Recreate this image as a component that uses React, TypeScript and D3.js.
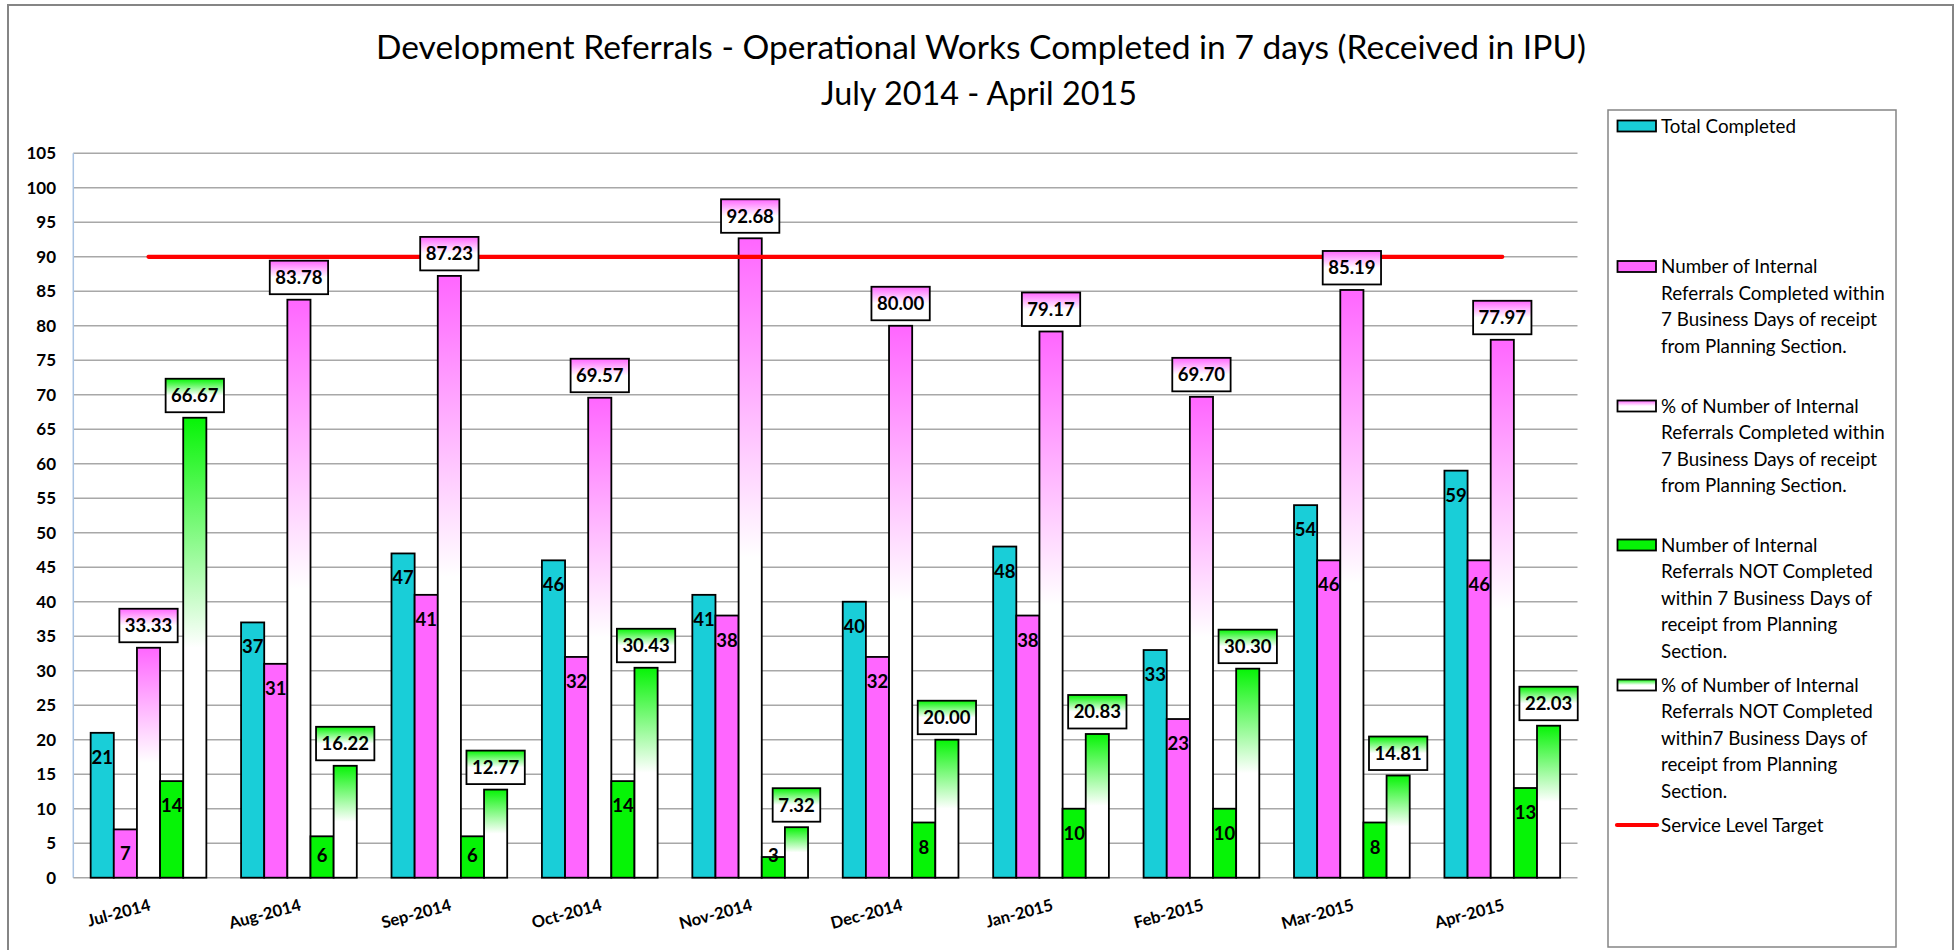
import { useEffect, useRef } from 'react';
import * as d3 from 'd3';

// --- data ---
const months = ['Jul-2014', 'Aug-2014', 'Sep-2014', 'Oct-2014', 'Nov-2014', 'Dec-2014', 'Jan-2015', 'Feb-2015', 'Mar-2015', 'Apr-2015'];
const totalCompleted = [21, 37, 47, 46, 41, 40, 48, 33, 54, 59];
const completedWithin = [7, 31, 41, 32, 38, 32, 38, 23, 46, 46];
const pctCompletedWithin = [33.33, 83.78, 87.23, 69.57, 92.68, 80.0, 79.17, 69.7, 85.19, 77.97];
const notCompletedWithin = [14, 6, 6, 14, 3, 8, 10, 10, 8, 13];
const pctNotCompletedWithin = [66.67, 16.22, 12.77, 30.43, 7.32, 20.0, 20.83, 30.3, 14.81, 22.03];
const serviceLevelTarget = 90;
const yTicks = [0, 5, 10, 15, 20, 25, 30, 35, 40, 45, 50, 55, 60, 65, 70, 75, 80, 85, 90, 95, 100, 105];

const titleLines = ['Development Referrals - Operational Works Completed in 7 days (Received in IPU)', 'July 2014 - April 2015'];

const legendTotal = ['Total Completed'];
const legendWithin = ['Number of Internal', 'Referrals Completed within', '7 Business Days of receipt', 'from Planning Section.'];
const legendPctWithin = ['% of Number of Internal', 'Referrals Completed within', '7 Business Days of receipt', 'from Planning Section.'];
const legendNot = ['Number of Internal', 'Referrals NOT Completed', 'within 7 Business Days of', 'receipt from Planning', 'Section.'];
const legendPctNot = ['% of Number of Internal', 'Referrals NOT Completed', 'within7 Business Days of', 'receipt from Planning', 'Section.'];
const legendTarget = ['Service Level Target'];

const TEAL = '#19CED8';
const PINK = '#FF66FF';
const GREEN = '#06F406';

const FONT = 'Lato, "Noto Sans", sans-serif';

export default function App() {
    const svgRef = useRef<SVGSVGElement | null>(null);

    useEffect(() => {
        const W = 1959;
        const H = 950;
        const svg = d3.select(svgRef.current)
            .attr('width', W)
            .attr('height', H)
            .style('background', '#fff');
        svg.selectAll('*').remove();

        const defs = svg.append('defs');
        const fade = (id: string, color: string) => {
            const g = defs.append('linearGradient').attr('id', id)
                .attr('x1', 0).attr('y1', 0).attr('x2', 0).attr('y2', 1);
            g.append('stop').attr('offset', '0%').attr('stop-color', color);
            g.append('stop').attr('offset', '50%').attr('stop-color', '#fff');
            g.append('stop').attr('offset', '100%').attr('stop-color', '#fff');
        };
        fade('pinkFade', PINK);
        fade('greenFade', GREEN);

        // outer chart border
        svg.append('rect')
            .attr('x', 8).attr('y', 5).attr('width', 1945).attr('height', 950)
            .attr('fill', 'none').attr('stroke', '#858585').attr('stroke-width', 2);

        // title
        const title = svg.append('g').attr('font-family', FONT).attr('fill', '#000');
        title.append('text')
            .attr('x', 981).attr('y', 59).attr('text-anchor', 'middle')
            .attr('font-size', 33)
            .attr('textLength', 1210).attr('lengthAdjust', 'spacingAndGlyphs')
            .text(titleLines[0]);
        title.append('text')
            .attr('x', 979).attr('y', 105).attr('text-anchor', 'middle')
            .attr('font-size', 33)
            .attr('textLength', 316).attr('lengthAdjust', 'spacingAndGlyphs')
            .text(titleLines[1]);

        const left = 73.3;
        const right = 1577.5;
        const top = 153.3;
        const bottom = 877.7;

        const y = d3.scaleLinear().domain([0, 105]).range([bottom, top]);
        const x0 = d3.scaleBand().domain(months).range([left, right])
            .paddingInner(1.5 / 6.5).paddingOuter(0.75 / 6.5);
        const keys = ['total', 'within', 'pctWithin', 'not', 'pctNot'];
        const x1 = d3.scaleBand().domain(keys).range([0, x0.bandwidth()]);

        // gridlines
        svg.append('g').selectAll('line').data(yTicks.filter(t => t > 0)).join('line')
            .attr('x1', left).attr('x2', right)
            .attr('y1', d => y(d)).attr('y2', d => y(d))
            .attr('stroke', '#A8A8A8').attr('stroke-width', 1.5);

        // y axis labels
        svg.append('g').selectAll('text').data(yTicks).join('text')
            .attr('x', 56).attr('y', d => y(d) + 6)
            .attr('text-anchor', 'end')
            .attr('font-family', FONT).attr('font-weight', 700).attr('font-size', 17)
            .text(d => d);

        // axis lines
        svg.append('line').attr('x1', left).attr('x2', left).attr('y1', top).attr('y2', bottom)
            .attr('stroke', '#A9C4E4').attr('stroke-width', 1.5);
        svg.append('line').attr('x1', left).attr('x2', right).attr('y1', bottom).attr('y2', bottom)
            .attr('stroke', '#A8A8A8').attr('stroke-width', 1.5);

        const rows = months.map((m, i) => ({
            month: m,
            values: [
                { key: 'total', v: totalCompleted[i], fill: TEAL, pct: null as string | null },
                { key: 'within', v: completedWithin[i], fill: PINK, pct: null },
                { key: 'pctWithin', v: pctCompletedWithin[i], fill: 'url(#pinkFade)', pct: 'url(#pinkFade)' },
                { key: 'not', v: notCompletedWithin[i], fill: GREEN, pct: null },
                { key: 'pctNot', v: pctNotCompletedWithin[i], fill: 'url(#greenFade)', pct: 'url(#greenFade)' },
            ],
        }));

        const groups = svg.append('g').selectAll('g').data(rows).join('g')
            .attr('transform', d => `translate(${x0(d.month)},0)`);

        groups.selectAll('rect').data(d => d.values).join('rect')
            .attr('x', d => x1(d.key)!)
            .attr('y', d => y(d.v))
            .attr('width', x1.bandwidth())
            .attr('height', d => bottom - y(d.v))
            .attr('fill', d => d.fill)
            .attr('stroke', '#000').attr('stroke-width', 1.8);

        // service level target line (under the data labels)
        const cx0 = x0(months[0])! + x0.bandwidth() / 2;
        const cx1 = x0(months[months.length - 1])! + x0.bandwidth() / 2;
        svg.append('line')
            .attr('x1', cx0).attr('x2', cx1)
            .attr('y1', y(serviceLevelTarget)).attr('y2', y(serviceLevelTarget))
            .attr('stroke', '#FF0000').attr('stroke-width', 4.2).attr('stroke-linecap', 'round');

        const labels = svg.append('g').selectAll('g').data(rows).join('g')
            .attr('transform', d => `translate(${x0(d.month)},0)`);

        // count labels inside the end of bars
        labels.selectAll('text.count').data(d => d.values.filter(v => !v.pct)).join('text')
            .attr('class', 'count')
            .attr('x', d => x1(d.key)! + x1.bandwidth() / 2)
            .attr('y', d => Math.min(y(d.v) + 31, bottom - 16))
            .attr('text-anchor', 'middle')
            .attr('font-family', FONT).attr('font-weight', 700).attr('font-size', 18.5)
            .text(d => d.v);

        // percentage labels in boxes
        const pctLabels = labels.selectAll('g.pct').data(d => d.values.filter(v => v.pct)).join('g')
            .attr('class', 'pct');
        pctLabels.each(function (d) {
            const g = d3.select(this);
            const cx = x1(d.key)! + x1.bandwidth() / 2;
            const boxBottom = y(d.v) - 5.5;
            const boxH = 33.5;
            const rect = g.append('rect');
            const t = g.append('text')
                .attr('x', cx).attr('y', boxBottom - boxH / 2 + 6.6)
                .attr('text-anchor', 'middle')
                .attr('font-family', FONT).attr('font-weight', 700).attr('font-size', 18.5)
                .text(d.v.toFixed(2));
            const tw = (t.node() as SVGTextElement).getComputedTextLength();
            const bw = tw + 11;
            rect.attr('x', cx - bw / 2).attr('y', boxBottom - boxH)
                .attr('width', bw).attr('height', boxH)
                .attr('fill', d.pct!).attr('stroke', '#000').attr('stroke-width', 1.8);
        });

        // x axis labels
        svg.append('g').selectAll('text').data(months).join('text')
            .attr('transform', d => `translate(${x0(d)! + x0.bandwidth() / 2 + 3},910) rotate(-15)`)
            .attr('text-anchor', 'end')
            .attr('font-family', FONT).attr('font-weight', 700).attr('font-size', 16.5)
            .text(d => d);

        // legend
        const legend = svg.append('g').attr('font-family', FONT).attr('font-size', 18.8);
        legend.append('rect')
            .attr('x', 1608).attr('y', 110).attr('width', 288).attr('height', 837)
            .attr('fill', '#fff').attr('stroke', '#858585').attr('stroke-width', 1.5);

        const entries = [
            { lines: legendTotal, y: 126, fill: TEAL, line: false },
            { lines: legendWithin, y: 266.5, fill: PINK, line: false },
            { lines: legendPctWithin, y: 406, fill: 'url(#pinkFade)', line: false },
            { lines: legendNot, y: 545, fill: GREEN, line: false },
            { lines: legendPctNot, y: 685, fill: 'url(#greenFade)', line: false },
            { lines: legendTarget, y: 825, fill: '#FF0000', line: true },
        ];
        entries.forEach(e => {
            if (e.line) {
                legend.append('line')
                    .attr('x1', 1617).attr('x2', 1657).attr('y1', e.y).attr('y2', e.y)
                    .attr('stroke', e.fill).attr('stroke-width', 4.2).attr('stroke-linecap', 'round');
            } else {
                legend.append('rect')
                    .attr('x', 1617.5).attr('y', e.y - 5.5).attr('width', 38.5).attr('height', 11)
                    .attr('fill', e.fill).attr('stroke', '#000').attr('stroke-width', 1.8);
            }
            const t = legend.append('text').attr('x', 1661).attr('y', e.y + 6.5);
            e.lines.forEach((l, i) => {
                t.append('tspan').attr('x', 1661).attr('y', e.y + 6.5 + i * 26.5).text(l);
            });
        });
    }, []);

    return (
        <svg ref={svgRef} style={{ position: 'absolute', left: 0, top: 0, display: 'block' }} />
    );
}
